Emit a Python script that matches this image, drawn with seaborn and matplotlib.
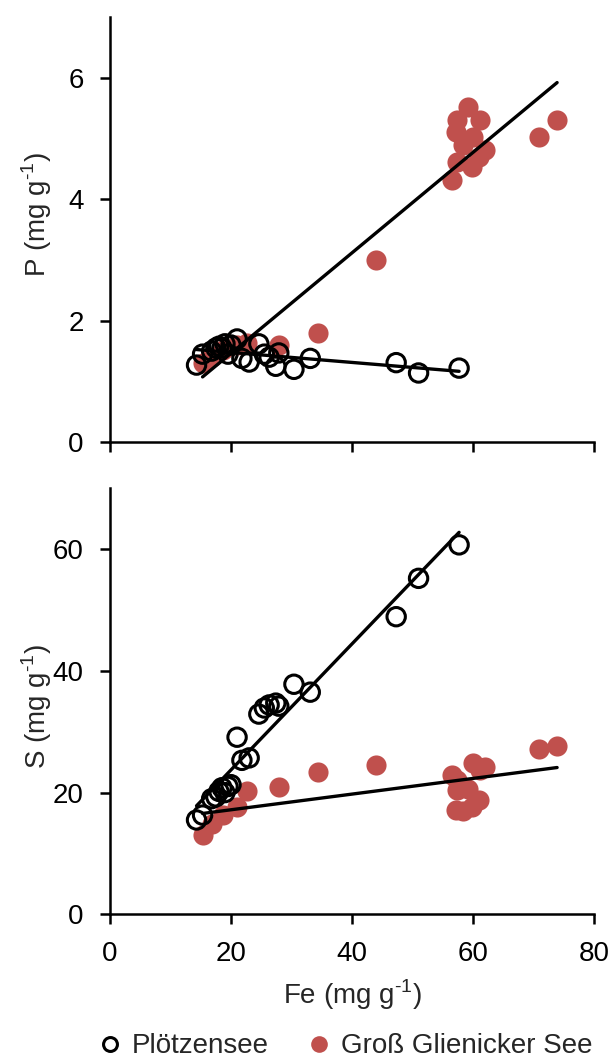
import matplotlib
matplotlib.use('Agg')
import matplotlib.pyplot as plt
import seaborn as sns
import numpy as np
import pandas as pd
from matplotlib.lines import Line2D

# Ploetzensee (Fe, P, S in mg/g)
plo_fe = [14.3, 15.3, 16.8, 17.5, 18.0, 18.5, 19.0, 19.5, 20.0, 21.0, 21.8,
          23.0, 24.6, 25.5, 26.3, 27.4, 27.9, 30.4, 33.1, 47.3, 51.0, 57.7]
plo_p = [1.27, 1.45, 1.50, 1.55, 1.58, 1.55, 1.62, 1.45, 1.60, 1.70, 1.38,
         1.32, 1.62, 1.45, 1.40, 1.25, 1.47, 1.20, 1.38, 1.31, 1.14, 1.22]
plo_s = [15.5, 16.3, 19.0, 19.3, 20.2, 20.8, 20.0, 21.0, 21.3, 29.1, 25.3,
         25.7, 32.9, 33.9, 34.4, 34.7, 34.2, 37.8, 36.5, 48.9, 55.2, 60.7]

# Gross Glienicker See
gg_fe = [15.3, 16.8, 18.6, 21.0, 22.6, 28.0, 34.4, 44.0,
         56.5, 57.2, 57.3, 57.3, 58.4, 59.1, 59.8, 60.0, 61.0, 61.2, 62.0,
         70.9, 73.9]
gg_p = [1.30, 1.40, 1.52, 1.60, 1.63, 1.60, 1.80, 3.00,
        4.31, 5.11, 5.30, 4.61, 4.90, 5.52, 4.53, 5.03, 4.70, 5.30, 4.81,
        5.02, 5.31]
gg_s = [13.0, 14.9, 16.3, 17.7, 20.2, 20.9, 23.4, 24.5,
        22.9, 17.1, 20.4, 22.0, 16.9, 20.6, 17.7, 24.8, 18.8, 23.7, 24.2,
        27.1, 27.7]

plo = pd.DataFrame({'Fe': plo_fe, 'P': plo_p, 'S': plo_s})
gg = pd.DataFrame({'Fe': gg_fe, 'P': gg_p, 'S': gg_s})

red = '#C0504D'

sns.set_style('ticks')
plt.rcParams['font.family'] = ['Liberation Sans', 'DejaVu Sans']
plt.rcParams['mathtext.fontset'] = 'custom'
plt.rcParams['mathtext.rm'] = 'Liberation Sans'
fs = 20
unit = ' (mg g$^{\u2010 1}$)'

fig = plt.figure(figsize=(6.16, 10.58), dpi=100)
ax1 = fig.add_axes([0.1786, 0.582, 0.7857, 0.402])
ax2 = fig.add_axes([0.1786, 0.1358, 0.7857, 0.4027])

def panel(ax, col, ymax, yticks, ylab, red_first):
    order = [(gg, 'gg'), (plo, 'plo')] if red_first else [(plo, 'plo'), (gg, 'gg')]
    for df, name in order:
        if name == 'gg':
            sns.scatterplot(data=df, x='Fe', y=col, ax=ax, s=210, color=red,
                            linewidth=0, zorder=2)
        else:
            sns.scatterplot(data=df, x='Fe', y=col, ax=ax, s=175, facecolor='none',
                            edgecolor='black', linewidth=2.2, zorder=3)
    for df in (plo, gg):
        sns.regplot(data=df, x='Fe', y=col, ax=ax, scatter=False, ci=None,
                    truncate=True, line_kws={'color': 'black', 'lw': 2.4, 'zorder': 4})
    ax.set_xlim(0, 80)
    ax.set_ylim(0, ymax)
    ax.set_xticks([0, 20, 40, 60, 80])
    ax.set_yticks(yticks)
    for s in ['top', 'right']:
        ax.spines[s].set_visible(False)
    for s in ['left', 'bottom']:
        ax.spines[s].set_linewidth(1.8)
        ax.spines[s].set_color('black')
    ax.tick_params(direction='out', length=7, width=1.8, pad=12,
                   labelsize=fs, colors='black')
    ax.set_ylabel(ylab, fontsize=fs)
    ax.set_xlabel('')

panel(ax1, 'P', 7, [0, 2, 4, 6], 'P' + unit, True)
panel(ax2, 'S', 70, [0, 20, 40, 60], 'S' + unit, False)
ax1.set_xticklabels([])
ax1.yaxis.set_label_coords(-0.115, 0.536)
ax2.yaxis.set_label_coords(-0.115, 0.487)
ax2.set_xlabel('Fe' + unit, fontsize=fs, labelpad=8)

handles = [Line2D([0], [0], marker='o', color='none', markerfacecolor='none',
                  markeredgecolor='black', markeredgewidth=2.2, markersize=10,
                  label='Plötzensee'),
           Line2D([0], [0], marker='o', color='none', markerfacecolor=red,
                  markeredgewidth=0, markersize=12, label='Groß Glienicker See')]
fig.legend(handles=handles, loc='center', bbox_to_anchor=(0.562, 0.011),
           ncol=2, frameon=False, fontsize=fs, handlelength=0.7,
           handletextpad=0.45, columnspacing=1.45, borderpad=0, borderaxespad=0)

fig.savefig('out.png', dpi=100)
